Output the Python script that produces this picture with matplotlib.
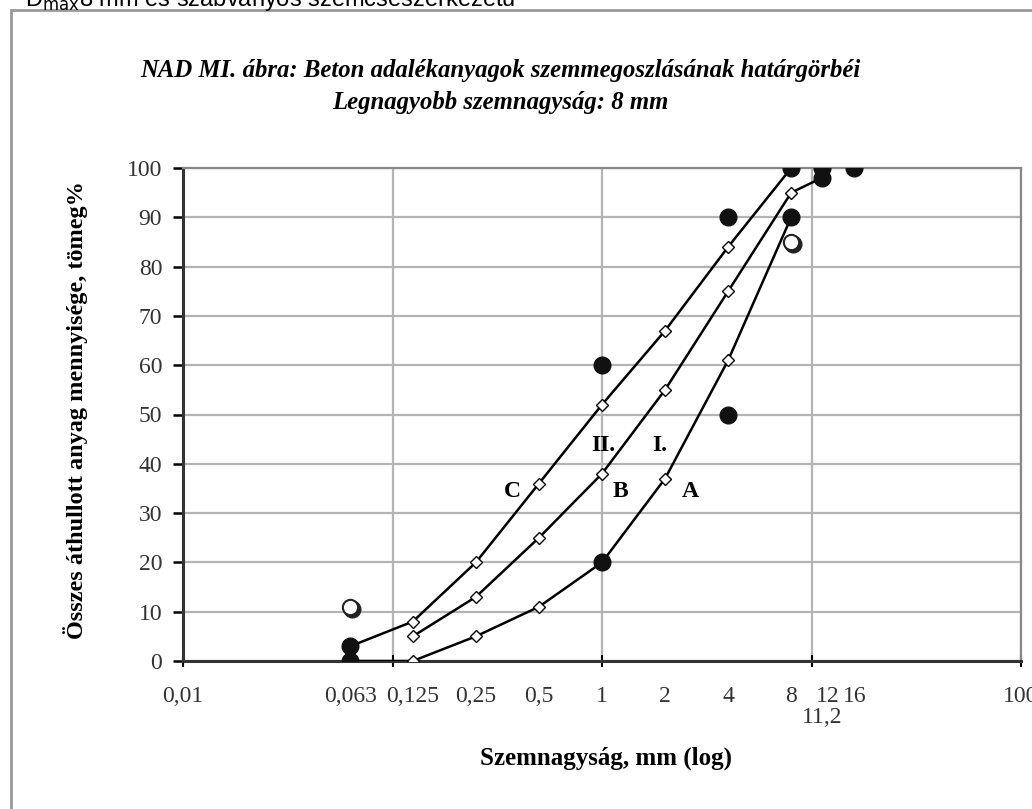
import matplotlib
matplotlib.use('Agg')
import matplotlib.pyplot as plt
import matplotlib.transforms as mtransforms
from matplotlib.patches import Rectangle

# grading curves (sieve size mm, passing %)
sieves_a = [0.063, 0.125, 0.25, 0.5, 1, 2, 4, 8]
pass_a = [0, 0, 5, 11, 20, 37, 61, 90]
sieves_b = [0.125, 0.25, 0.5, 1, 2, 4, 8, 11.2]
pass_b = [5, 13, 25, 38, 55, 75, 95, 98]
sieves_c = [0.063, 0.125, 0.25, 0.5, 1, 2, 4, 8]
pass_c = [3, 8, 20, 36, 52, 67, 84, 100]

# standard limit points (filled) and the open ones
dot_x = [0.063, 0.063, 1, 1, 4, 4, 8, 8, 11.2, 11.2, 16]
dot_y = [3, 0, 60, 20, 90, 50, 100, 90, 100, 98, 100]
open_x = [0.063, 8]
open_y = [11, 85]

tick_pos = [0.01, 0.063, 0.125, 0.25, 0.5, 1, 2, 4, 8, 12, 16, 100]
tick_txt = ['0,01', '0,063', '0,125', '0,25', '0,5', '1', '2', '4', '8', '12', '16', '100']

curve_names = ['C', 'B', 'A', 'II.', 'I.']
name_x = [0.372, 1.22, 2.63, 1.01, 1.89]
name_y = [34.3, 34.3, 34.3, 43.8, 43.8]

serif = ['Liberation Serif', 'DejaVu Serif']

fig = plt.figure(figsize=(10.32, 8.09), dpi=100)
ax = fig.add_axes([183/1032, 1 - 661/809, (1021 - 183)/1032, (661 - 168)/809])

ax.set_xscale('log')
ax.set_xlim(0.01, 100)
ax.set_ylim(0, 100)

ax.grid(True, which='major', color='#b4b4b4', lw=1.6, zorder=0)
ax.minorticks_off()
ax.set_xticks([0.01, 0.1, 1, 10, 100])
ax.set_xticklabels([])
ax.set_yticks(range(0, 101, 10))
ax.set_yticklabels([str(v) for v in range(0, 101, 10)], fontsize=17, family=serif, color='#333333')
ax.tick_params(axis='y', direction='out', length=7, width=1.8, pad=8)
ax.tick_params(axis='x', direction='inout', length=8, width=1.5)

for s in ['left', 'bottom']:
    ax.spines[s].set_color('#333333')
    ax.spines[s].set_linewidth(2.2)
for s in ['top', 'right']:
    ax.spines[s].set_color('#888888')
    ax.spines[s].set_linewidth(1.6)

for xs, ys in [(sieves_a, pass_a), (sieves_b, pass_b), (sieves_c, pass_c)]:
    ax.plot(xs, ys, color='black', lw=1.8, marker='D', ms=6.5,
            mfc='white', mec='black', mew=1.0, zorder=3)

ax.plot(dot_x, dot_y, ls='none', marker='o', ms=12, color='#111111', zorder=4)

shadow = mtransforms.offset_copy(ax.transData, fig=fig, x=2, y=-2, units='dots')
ax.plot(open_x, open_y, ls='none', marker='o', ms=12, color='#222222',
        transform=shadow, zorder=4)
ax.plot(open_x, open_y, ls='none', marker='o', ms=11, mfc='white', mec='#222222',
        mew=1.5, zorder=5)

for name, x, y in zip(curve_names, name_x, name_y):
    ax.text(x, y, name, fontsize=17, fontweight='bold', family=serif,
            ha='center', va='center', zorder=6)

trans = mtransforms.blended_transform_factory(ax.transData, ax.transAxes)
for x, t in zip(tick_pos, tick_txt):
    ax.text(x, -0.073, t, transform=trans, fontsize=17, family=serif,
            ha='center', va='center', color='#333333')
ax.text(11.2, -0.115, '11,2', transform=trans, fontsize=17, family=serif,
        ha='center', va='center', color='#333333')

fig.text(606/1032, 1 - 758/809, 'Szemnagyság, mm (log)', fontsize=18,
         fontweight='bold', family=serif, ha='center', va='center')
fig.text(76/1032, 1 - 410/809, 'Összes áthullott anyag mennyisége, tömeg%',
         fontsize=17.5, fontweight='bold', family=serif, rotation=90,
         ha='center', va='center')
fig.text(500/1032, 1 - 70/809,
         'NAD MI. ábra: Beton adalékanyagok szemmegoszlásának határgörbéi',
         fontsize=17.8, fontweight='bold', style='italic', family=serif,
         ha='center', va='center')
fig.text(500/1032, 1 - 103/809, 'Legnagyobb szemnagyság: 8 mm',
         fontsize=17.8, fontweight='bold', style='italic', family=serif,
         ha='center', va='center')

# page text cut off above the chart
fig.text(25/1032, 1 - 6/809, 'D$_{\\mathrm{max}}$8 mm és szabványos szemcseszerkezetű',
         fontsize=17, family=['Liberation Sans', 'DejaVu Sans'], va='baseline', ha='left')

fig.patches.append(Rectangle((11/1032, -0.05), 1.2, 1.05 - 10/809,
                             transform=fig.transFigure, fill=False,
                             edgecolor='#999999', lw=2))

fig.savefig('out.png', dpi=100)
